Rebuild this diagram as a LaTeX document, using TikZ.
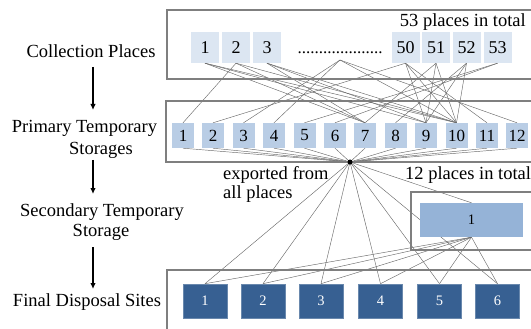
\documentclass[tikz,border=0pt]{standalone}
\usepackage{fontspec}
\setmainfont{Liberation Serif}
\usetikzlibrary{arrows.meta}
\pgfdeclarelayer{bg}
\pgfsetlayers{bg,main}
\definecolor{topc}{HTML}{DCE6F2}
\definecolor{primc}{HTML}{B9CDE5}
\definecolor{secc}{HTML}{95B3D7}
\definecolor{finc}{HTML}{376092}
\definecolor{framec}{HTML}{7F7F7F}
\definecolor{linkc}{HTML}{6A6A6A}
\begin{document}
\begin{tikzpicture}[x=1pt,y=-1pt,
 topbox/.style={fill=topc,minimum width=28pt,minimum height=31pt,inner sep=0pt,font=\fontsize{18}{20}\selectfont},
 primbox/.style={fill=primc,minimum width=22pt,minimum height=25pt,inner sep=0pt,font=\fontsize{17}{19}\selectfont},
 secbox/.style={fill=secc,minimum width=103pt,minimum height=34pt,inner sep=0pt,font=\fontsize{14.5}{16}\selectfont},
 finbox/.style={fill=finc,draw=finc!75!white,line width=0.6pt,minimum width=44pt,minimum height=34pt,inner sep=0pt,text=white,font=\fontsize{14.5}{16}\selectfont},
 frame/.style={draw=framec,line width=1.2pt},
 link/.style={draw=linkc,line width=0.45pt},
 lbl/.style={font=\fontsize{18.5}{21}\selectfont,inner sep=0pt},
 flow/.style={line width=1.3pt,-{Latex[length=6pt,width=5.5pt]}}
]
\useasboundingbox (0,0) rectangle (531,329);

% frames
\draw[frame] (545,10) -- (167,10) -- (167,79) -- (545,79);
\draw[frame] (545,101) -- (166,101) -- (166,162) -- (545,162);
\draw[frame] (545,192) -- (411,192) -- (411,250) -- (545,250);
\draw[frame] (545,270) -- (167,270) -- (167,345);

% left labels
\node[lbl] (lcol) at (91,51) {Collection Places};
\node[lbl] (lpri1) at (84.5,128) {Primary Temporary};
\node[lbl] (lpri2) at (101,150) {Storages};
\node[lbl] (lsec1) at (102,212) {Secondary Temporary};
\node[lbl] (lsec2) at (101,232) {Storage};
\node[lbl] (lfin) at (87,302) {Final Disposal Sites};
\coordinate (a1s) at (93,67);  \coordinate (a1e) at (93,110);
\coordinate (a2s) at (93,160); \coordinate (a2e) at (93,194);
\coordinate (a3s) at (93,247); \coordinate (a3e) at (93,289);
\draw[flow] (a1s) -- (a1e);
\draw[flow] (a2s) -- (a2e);
\draw[flow] (a3s) -- (a3e);

% collection places
\foreach \n/\x in {1/205,2/236,3/267,50/405.5,51/436,52/466.5,53/497.5}
  \node[topbox] (t\n) at (\x,47.5) {\n};
\node[font=\fontsize{17}{19}\selectfont,anchor=base,inner sep=0pt] (dots) at (340,54) {....................};
\coordinate (dd) at (340,60);
\node[lbl,anchor=base east] (tot53) at (526,27) {53 places in total};

% primary storages
\foreach \n/\x in {1/183,2/213,3/243.5,4/274,5/304.5,6/335,7/365,8/395.5,9/426,10/456.5,11/487,12/517}
  \node[primbox] (p\n) at (\x,135.5) {\n};
\node[circle,fill=black,inner sep=0pt,minimum size=5pt] (hub) at (350,162) {};
\node[lbl,anchor=base west] (exp1) at (223,179) {exported from};
\node[lbl,anchor=base west] (exp2) at (223,198) {all places};
\node[lbl,anchor=base west] (tot12) at (405,179) {12 places in total};

% secondary storage
\node[secbox] (s1) at (471.5,220) {1};

% final disposal sites
\foreach \n/\x in {1/205,2/263,3/321,4/380.5,5/439.5,6/497.5}
  \node[finbox] (f\n) at (\x,301) {\n};

\begin{pgfonlayer}{bg}
% collection -> primary
\foreach \a/\b in {t1/p7,t1/p9,t1/p10,t2/p1,t2/p7,t2/p10,t3/p7,t3/p9,t3/p10,
                   t50/p2,t50/p9,t50/p10,t50/p11,t51/p7,t51/p9,t51/p10,
                   t52/p8,t52/p9,t52/p10,t53/p5,t53/p6}
  \draw[link] (\a.south) -- (\b.north);
\foreach \b in {p3,p4,p10,p12}
  \draw[link] (dd) -- (\b.north);
% primary -> hub
\foreach \n in {1,...,12}
  \draw[link] (p\n.south) -- (hub.center);
% hub -> secondary and final
\draw[link] (hub.center) -- (s1.north);
\foreach \n in {1,...,6}
  \draw[link] (hub.center) -- (f\n.north);
% secondary -> final
\foreach \n in {1,...,6}
  \draw[link] (s1.south) -- (f\n.north);
\end{pgfonlayer}
\end{tikzpicture}
\end{document}
